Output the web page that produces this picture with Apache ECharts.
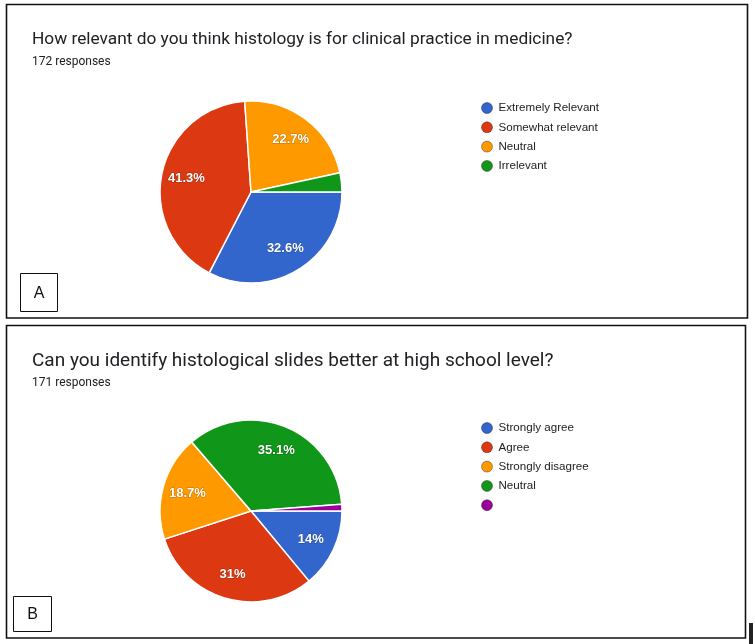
<!DOCTYPE html>
<html>
<head>
<meta charset="utf-8">
<script src="https://cdn.jsdelivr.net/npm/echarts@6/dist/echarts.min.js"></script>
<style>
  html, body { margin: 0; padding: 0; background: #fff; }
  #wrap { position: relative; width: 755px; height: 644px; overflow: hidden; }
  .panel { position: absolute; left: 0; width: 755px; height: 322px; }
</style>
</head>
<body>
<div id="wrap">
  <div id="chartA" class="panel" style="top:0px"></div>
  <div id="chartB" class="panel" style="top:322px"></div>
</div>
<script>
// ---- Data ----
const titleA = "How relevant do you think histology is for clinical practice in medicine?";
const responsesA = "172 responses";
const namesA = ["Extremely Relevant", "Somewhat relevant", "Neutral", "Irrelevant"];
const valuesA = [32.6, 41.3, 22.7, 3.4];
const colorsA = ["#3366cc", "#dc3912", "#ff9900", "#109618"];
const panelLabelA = "A";

const titleB = "Can you identify histological slides better at high school level?";
const responsesB = "171 responses";
const namesB = ["Strongly agree", "Agree", "Strongly disagree", "Neutral", " "];
const valuesB = [14, 31, 18.7, 35.1, 1.2];
const colorsB = ["#3366cc", "#dc3912", "#ff9900", "#109618", "#990099"];
const panelLabelB = "B";

function buildOption(title, responses, names, values, colors, layout) {
  const data = names.map((n, i) => ({ name: n, value: values[i] }));
  return {
    animation: false,
    color: colors,
    legend: {
      orient: 'vertical',
      left: 476,
      top: layout.legendTop,
      itemWidth: 11,
      itemHeight: 11,
      itemGap: 7.3,
      icon: 'circle',
      data: names,
      selectedMode: false,
      itemStyle: { borderWidth: 1, borderColor: 'rgba(0,0,0,0.35)' },
      textStyle: { fontFamily: 'Liberation Sans, Arial, sans-serif', fontSize: 11.6, color: '#222', padding: [0, 0, 0, 1] }
    },
    series: [
      {
        type: 'pie',
        center: [251, layout.cy],
        radius: [0, 91],
        startAngle: 0,
        clockwise: true,
        silent: true,
        data: data,
        label: { show: false },
        labelLine: { show: false },
        itemStyle: { borderColor: '#ffffff', borderWidth: 1.5 }
      },
      {
        type: 'pie',
        center: [251, layout.cy],
        radius: [35, 91],
        startAngle: 0,
        clockwise: true,
        silent: true,
        data: data,
        itemStyle: { color: 'rgba(0,0,0,0)', borderWidth: 0 },
        labelLine: { show: false },
        label: {
          show: true,
          position: 'inside',
          formatter: p => (p.value >= 5 ? p.value + '%' : ''),
          color: '#ffffff',
          fontFamily: 'Liberation Sans, Arial, sans-serif',
          fontSize: 13,
          fontWeight: 'bold',
          textBorderColor: 'rgba(0,0,0,0.25)',
          textBorderWidth: 1
        }
      }
    ],
    graphic: [
      { type: 'rect', silent: true, shape: layout.frame, style: { fill: 'none', stroke: '#111', lineWidth: 1.6 } },
      { type: 'rect', silent: true, shape: layout.box, style: { fill: '#fff', stroke: '#111', lineWidth: 1 } },
      { type: 'text', silent: true, x: layout.box.x + layout.box.width / 2, y: layout.box.y + layout.box.height / 2 + 1,
        style: { text: layout.panelLabel, fontFamily: 'Liberation Sans, Arial, sans-serif', fontSize: 16, fill: '#111', align: 'center', verticalAlign: 'middle' } },
      { type: 'text', silent: true, x: 32, y: layout.titleY,
        style: { text: title, fontFamily: 'Roboto, sans-serif', fontSize: layout.titleSize, fill: '#202124', align: 'left', verticalAlign: 'middle' } },
      { type: 'text', silent: true, x: 32, y: layout.respY,
        style: { text: responses, fontFamily: 'Roboto, sans-serif', fontSize: 12, fill: '#202124', align: 'left', verticalAlign: 'middle' } }
    ].concat(layout.extra || [])
  };
}

const chartA = echarts.init(document.getElementById('chartA'), null, { renderer: 'canvas' });
chartA.setOption(buildOption(titleA, responsesA, namesA, valuesA, colorsA, {
  cy: 192,
  legendTop: 97,
  titleY: 40,
  titleSize: 17.3,
  respY: 62,
  frame: { x: 6.5, y: 4.5, width: 741, height: 313.5 },
  box: { x: 20.5, y: 273.5, width: 37, height: 38 },
  panelLabel: panelLabelA
}));

const chartB = echarts.init(document.getElementById('chartB'), null, { renderer: 'canvas' });
chartB.setOption(buildOption(titleB, responsesB, namesB, valuesB, colorsB, {
  cy: 189,
  legendTop: 95,
  titleY: 39,
  titleSize: 19,
  respY: 61,
  frame: { x: 6.5, y: 3.5, width: 739, height: 312.5 },
  box: { x: 13.5, y: 274.5, width: 38, height: 35 },
  panelLabel: panelLabelB,
  extra: [
    { type: 'rect', silent: true, shape: { x: 749, y: 301, width: 4, height: 21 }, style: { fill: '#222' } }
  ]
}));
</script>
</body>
</html>
